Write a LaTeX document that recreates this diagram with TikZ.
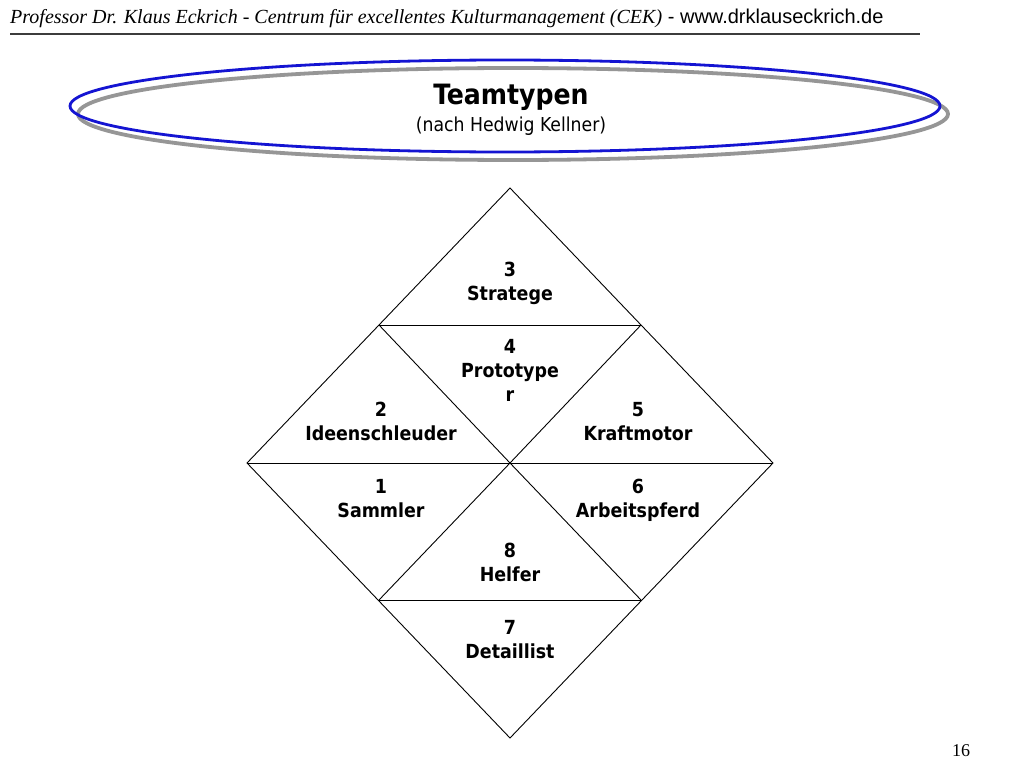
\documentclass[tikz,border=0pt]{standalone}
\usepackage{fontspec}
\setmainfont{DejaVu Sans Condensed}
\newfontfamily\hdserif{Liberation Serif}
\newfontfamily\hdsans{Liberation Sans}
\begin{document}
\begin{tikzpicture}[x=1pt,y=-1pt,
  cell/.style={align=center,inner sep=0pt,anchor=north,font=\bfseries\fontsize{19.4}{24}\selectfont},
  edge/.style={draw=black,line width=0.9pt},
  blueell/.style={draw={rgb,255:red,20;green,20;blue,210},line width=2.8pt},
  grayell/.style={draw={rgb,255:red,150;green,150;blue,150},line width=3.8pt}]
\useasboundingbox[fill=white] (0,0) rectangle (1024,768);
% header
\node[anchor=base west,inner sep=0pt] (hdr) at (10,24)
  {\fontsize{20}{24}\selectfont{\hdserif\itshape Professor Dr. Klaus Eckrich - Centrum für excellentes Kulturmanagement (CEK)} {\hdsans - www.drklauseckrich.de}};
\coordinate (hl) at (10,34);
\coordinate (hr) at (920,34);
\draw[line width=2pt,draw={rgb,255:red,60;green,60;blue,60}] (hl) -- (hr);
% ellipses
\draw[grayell] (513,114) ellipse [x radius=435, y radius=46];
\draw[blueell] (505,106) ellipse [x radius=435, y radius=46];
\node[inner sep=0pt,font=\bfseries\fontsize{28}{30}\selectfont] (title) at (511,97) {Teamtypen};
\node[inner sep=0pt,font=\fontsize{19.2}{20}\selectfont] (sub) at (511,126) {(nach Hedwig Kellner)};
% diamond coordinates
\coordinate (T) at (510,188);
\coordinate (B) at (510,738);
\coordinate (L) at (247,463);
\coordinate (R) at (773,463);
\coordinate (C) at (510,463);
\coordinate (UL) at (379,325);
\coordinate (UR) at (641,325);
\coordinate (LL) at (379,600);
\coordinate (LR) at (641,600);
\draw[edge,line join=miter] (T) -- (R) -- (B) -- (L) -- cycle;
\draw[edge] (UL) -- (UR);
\draw[edge] (L) -- (R);
\draw[edge] (LL) -- (LR);
\draw[edge] (UL) -- (C) -- (UR);
\draw[edge] (LL) -- (C) -- (LR);
% labels
\node[cell] (n3) at (510,262) {3\\Stratege};
\node[cell] (n4) at (510,339) {4\\Prototype\\r};
\node[cell] (n2) at (381,402) {2\\Ideenschleuder};
\node[cell] (n5) at (638,402) {5\\Kraftmotor};
\node[cell] (n1) at (381,479) {1\\Sammler};
\node[cell] (n6) at (638,479) {6\\Arbeitspferd};
\node[cell] (n8) at (510,543) {8\\Helfer};
\node[cell] (n7) at (510,620) {7\\Detaillist};
% page number
\node[anchor=base,inner sep=0pt,font=\hdserif\fontsize{18}{20}\selectfont] (pg) at (961,756) {16};
\end{tikzpicture}
\end{document}
